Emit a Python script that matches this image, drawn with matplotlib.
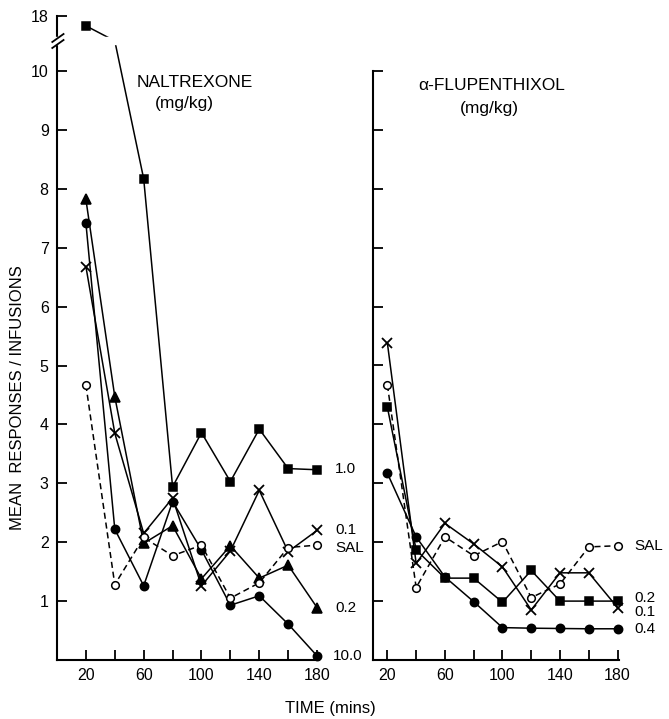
import matplotlib.pyplot as plt
import numpy as np
from matplotlib.patches import Rectangle
from matplotlib.lines import Line2D

plt.rcParams['font.family'] = ['Liberation Sans', 'DejaVu Sans']

# Data (mean responses / infusions)
times = [20, 40, 60, 80, 100, 120, 140, 160, 180]

# Naltrexone (mg/kg)
nal_sal = [4.67, 1.28, 2.08, 1.77, 1.95, 1.05, 1.31, 1.91, 1.95]
nal_01 = [6.68, 3.85, 2.15, 2.75, 1.26, 1.85, 2.88, 1.84, 2.20]
nal_02 = [7.82, 4.47, 1.98, 2.28, 1.38, 1.94, 1.39, 1.61, 0.89]
nal_10 = [17.8, 14.4, 8.17, 2.94, 3.86, 3.03, 3.92, 3.25, 3.23]
nal_100 = [7.42, 2.22, 1.26, 2.69, 1.87, 0.93, 1.09, 0.61, 0.07]

# alpha-Flupenthixol (mg/kg)
flu_sal = [4.67, 1.23, 2.09, 1.77, 2.01, 1.06, 1.29, 1.92, 1.94]
flu_01 = [5.38, 1.64, 2.32, 1.97, 1.58, 0.85, 1.48, 1.48, 0.89]
flu_02 = [4.29, 1.87, 1.39, 1.39, 0.98, 1.52, 1.00, 1.00, 1.00]
flu_04 = [3.17, 2.09, 1.41, 0.99, 0.55, 0.54, 0.535, 0.53, 0.53]

xticks = [20, 40, 60, 80, 100, 120, 140, 160, 180]
xticklabels = ['20', '', '60', '', '100', '', '140', '', '180']

# broken y scale for the left panel (10.4 .. 17.6 squeezed)
data_knots = [-100, 10.4, 17.6, 18.2, 100]
disp_knots = [-100, 10.4, 10.6, 11.1, 11.1 + 81.8 * 0.5 / 0.6]


def fwd(v):
    return np.interp(v, data_knots, disp_knots)


def inv(d):
    return np.interp(d, disp_knots, data_knots)


W, H = 669, 719
fig = plt.figure(figsize=(W / 100, H / 100), dpi=100)

px = 58.9  # pixels per y unit
ax1 = fig.add_axes([57 / W, (H - 660) / H, 261.5 / W, fwd(18) * px / H])
ax2 = fig.add_axes([373 / W, (H - 660) / H, 246 / W, 10 * px / H])

lw = 1.1
style = dict(color='black', lw=lw, clip_on=False)


def draw(ax, y, marker, ms, dashed=False, open_=False, markevery=None):
    kw = dict(style)
    if dashed:
        kw['linestyle'] = (0, (4, 2.5))
    ax.plot(times, y, marker=marker, ms=ms,
            mfc='white' if open_ else 'black', mec='black',
            mew=1.3 if marker == 'x' else 1.1,
            markevery=markevery, zorder=4 if open_ else 3, **kw)


ax1.set_yscale('function', functions=(fwd, inv))
draw(ax1, nal_sal, 'o', 5.5, dashed=True, open_=True)
draw(ax1, nal_01, 'x', 7)
draw(ax1, nal_02, '^', 6.5)
draw(ax1, nal_10, 's', 6, markevery=[0, 2, 3, 4, 5, 6, 7, 8])
draw(ax1, nal_100, 'o', 6)

draw(ax2, flu_sal, 'o', 5.5, dashed=True, open_=True)
draw(ax2, flu_01, 'x', 7)
draw(ax2, flu_02, 's', 6)
draw(ax2, flu_04, 'o', 6)

ax1.set_xlim(0, 181)
ax1.set_ylim(0, 18)
ax2.set_xlim(10, 181)
ax2.set_ylim(0, 10)

for ax in (ax1, ax2):
    for s in ('top', 'right'):
        ax.spines[s].set_visible(False)
    for s in ('left', 'bottom'):
        ax.spines[s].set_linewidth(1.5)
    ax.set_xticks(xticks)
    ax.set_xticklabels(xticklabels)
    ax.tick_params(direction='in', length=7, width=1.3, labelsize=11.5, pad=6)

ax1.set_yticks([1, 2, 3, 4, 5, 6, 7, 8, 9, 10, 18])
ax1.set_yticklabels(['1', '2', '3', '4', '5', '6', '7', '8', '9', '10', '18'])
ax2.set_yticks(range(1, 11))
ax2.set_yticklabels([])

# axis break on left panel
f = lambda p: (660 - p) / (fwd(18) * px)
ax1.add_patch(Rectangle((-0.04, f(44)), 0.3, f(37) - f(44), transform=ax1.transAxes,
                        color='white', zorder=5, clip_on=False))
for a, b in ((48, 40), (42, 34)):
    ax1.add_line(Line2D([-0.018, 0.025], [f(a), f(b)], transform=ax1.transAxes,
                        color='black', lw=1.3, zorder=6, clip_on=False))

# panel titles
ax1.text(95.5, 9.81, 'NALTREXONE', ha='center', va='center', fontsize=12.5)
ax1.text(88.5, 9.45, '(mg/kg)', ha='center', va='center', fontsize=12.5)
ax2.text(92.8, 9.76, 'α-FLUPENTHIXOL', ha='center', va='center', fontsize=12.5)
ax2.text(90.7, 9.37, '(mg/kg)', ha='center', va='center', fontsize=12.5)

# end labels
lab = dict(fontsize=11, va='center', ha='left', textcoords='offset pixels',
           annotation_clip=False)
ax1.annotate('1.0', (180, nal_10[-1]), xytext=(18, 1), **lab)
ax1.annotate('0.1', (180, nal_01[-1]), xytext=(18, 0), **lab)
ax1.annotate('SAL', (180, nal_sal[-1]), xytext=(18, -3), **lab)
ax1.annotate('0.2', (180, nal_02[-1]), xytext=(18, 0), **lab)
ax1.annotate('10.0', (180, nal_100[-1]), xytext=(16, 0), **lab)

ax2.annotate('SAL', (180, flu_sal[-1]), xytext=(17, 0), **lab)
ax2.annotate('0.2', (180, flu_02[-1]), xytext=(17, 3), **lab)
ax2.annotate('0.1', (180, flu_01[-1]), xytext=(17, -4), **lab)
ax2.annotate('0.4', (180, flu_04[-1]), xytext=(17, 0), **lab)

fig.text(18 / W, 1 - 398 / H, 'MEAN  RESPONSES / INFUSIONS', rotation=90,
         ha='center', va='center', fontsize=12)
fig.text(330 / W, 1 - 708 / H, 'TIME (mins)', ha='center', va='center', fontsize=12)

fig.savefig('out.png', dpi=100)
